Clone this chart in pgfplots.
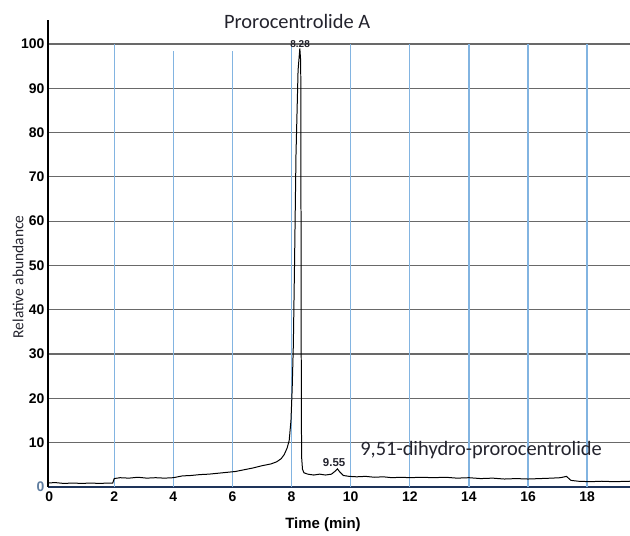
\documentclass[border=0pt]{standalone}
\usepackage{pgfplots}
\pgfplotsset{compat=1.18}
\usepackage{fontspec}
\setmainfont{Liberation Sans}
\newfontfamily\calibri{Carlito}
\definecolor{gridblue}{RGB}{130,180,225}
\definecolor{gridgray}{RGB}{105,105,105}
\definecolor{navy}{RGB}{30,52,90}
\definecolor{darktext}{RGB}{35,35,45}
\definecolor{zerolabel}{RGB}{95,125,160}

% chromatogram trace (time in min, relative abundance)
\pgfplotstableread{
t a
-0.24 0.9
0.00 1.0
0.30 0.8
0.60 0.9
0.90 0.8
1.20 0.9
1.50 0.8
1.80 0.9
1.95 0.9
2.00 1.9
2.20 2.1
2.50 2.0
2.80 2.2
3.10 2.0
3.40 2.1
3.70 2.0
4.00 2.1
4.30 2.5
4.60 2.6
4.90 2.8
5.20 2.9
5.50 3.1
5.80 3.3
6.10 3.5
6.40 3.9
6.70 4.3
7.00 4.8
7.30 5.2
7.50 5.7
7.65 6.4
7.75 7.3
7.85 8.8
7.92 10.5
7.98 15.0
8.02 22.0
8.06 32.0
8.10 50.0
8.15 75.0
8.22 94.0
8.28 99.0
8.31 96.0
8.32 60.0
8.33 20.0
8.34 6.8
8.37 4.0
8.42 3.2
8.55 2.9
8.75 2.7
8.95 2.9
9.15 2.7
9.35 2.9
9.48 3.6
9.55 4.1
9.62 3.5
9.75 2.6
9.95 2.4
10.20 2.3
10.50 2.4
10.80 2.2
11.10 2.3
11.40 2.1
11.70 2.2
12.00 2.1
12.40 2.2
12.80 2.1
13.20 2.2
13.60 2.0
14.00 2.1
14.40 1.9
14.80 2.0
15.20 1.8
15.60 1.9
16.00 1.8
16.40 1.9
16.80 2.0
17.10 2.1
17.30 2.4
17.45 1.5
17.70 1.3
18.10 1.2
18.50 1.3
18.90 1.2
19.45 1.3
}\trace

\begin{document}
\begin{tikzpicture}
\useasboundingbox (-48bp,-49bp) rectangle (582bp,487bp);
\begin{axis}[
    scale only axis,
    width=582bp, height=467bp,
    xmin=-0.24, xmax=19.45,
    ymin=0, ymax=105.4,
    axis lines=left,
    axis line style={-},
    x axis line style={navy, line width=2.2pt},
    y axis line style={black, line width=2pt},
    xtick={-0.2,2,4,6,8,10,12,14,16,18},
    xticklabels={0,2,4,6,8,10,12,14,16,18},
    ytick={0,10,...,100},
    yticklabels={{\color{zerolabel}0},10,20,30,40,50,60,70,80,90,100},
    major tick length=0pt,
    ymajorgrids,
    major grid style={gridgray, line width=1.2pt},
    /pgf/number format/assume math mode=true,
    ticklabel style={font=\bfseries\fontsize{14}{15}\selectfont},
    xticklabel style={yshift=-1bp},
    xlabel={\textbf{Time (min)}},
    xlabel style={font=\fontsize{15}{16}\selectfont,
        at={(axis description cs:0.4725,-0.081)}, anchor=center},
    ylabel={Relative abundance},
    ylabel style={font=\calibri\fontsize{15.5}{16}\selectfont, darktext,
        at={(axis description cs:-0.0515,0.45)}, anchor=center},
    clip=false,
]
\pgfplotsinvokeforeach{2,8,10,12,14,16,18}{
  \draw[gridblue, line width=1.4pt] (axis cs:#1,0) -- (axis cs:#1,100);
}
\pgfplotsinvokeforeach{4,6}{
  \draw[gridblue, line width=1.4pt] (axis cs:#1,0) -- (axis cs:#1,98.3);
}
\addplot[black, line width=1pt] table[x=t, y=a] {\trace};
\node[font=\bfseries\fontsize{10}{11}\selectfont, darktext] at (axis cs:8.29,100) {8.28};
\node[font=\bfseries\fontsize{11.5}{12}\selectfont, darktext] at (axis cs:9.44,5.6) {9.55};
\node[font=\calibri\fontsize{20.5}{22}\selectfont, anchor=west, inner sep=0pt, darktext] at (axis cs:10.32,8.35) {9,51-dihydro-prorocentrolide};
\node[font=\calibri\fontsize{20.5}{22}\selectfont, darktext] at (axis cs:8.19,105) {Prorocentrolide A};
\end{axis}
\end{tikzpicture}
\end{document}
